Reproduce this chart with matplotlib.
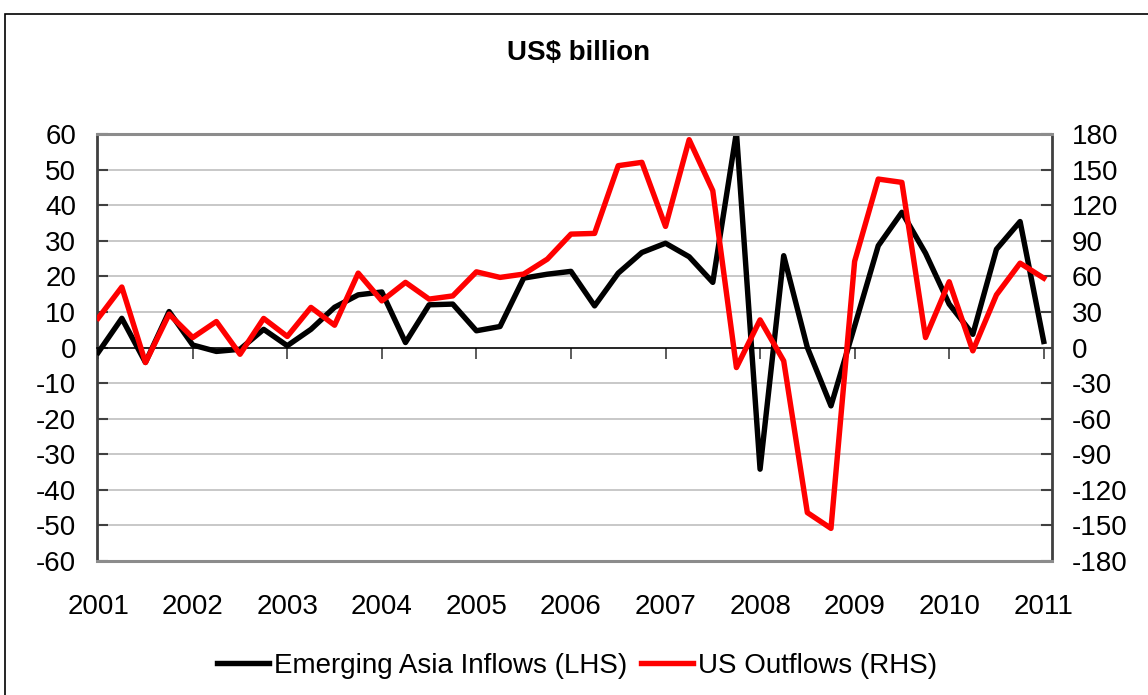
import numpy as np
import matplotlib.pyplot as plt
from matplotlib.patches import Rectangle

plt.rcParams['font.family'] = ['Liberation Sans', 'DejaVu Sans']

# quarterly data, 2001Q1 .. 2011Q1
asia_inflows = [-1.4, 8.2, -4.2, 10.1, 0.7, -1.1, -0.5, 5.1, 0.5, 5.1,
                11.3, 14.8, 15.6, 1.4, 12.0, 12.2, 4.7, 5.9, 19.5, 20.6,
                21.4, 11.7, 20.9, 26.7, 29.3, 25.5, 18.3, 60.5, -34.2, 25.8,
                0.0, -16.4, 6.0, 28.6, 38.0, 26.5, 12.2, 3.7, 27.6, 35.4,
                1.7]
us_outflows = [24.7, 51.0, -12.7, 28.1, 8.4, 21.9, -5.7, 24.5, 9.3, 33.8,
               18.8, 62.7, 39.3, 54.9, 40.8, 43.5, 63.8, 59.1, 61.9, 74.5,
               95.6, 96.2, 153.3, 156.1, 102.1, 175.2, 132.2, -16.9, 23.3, -11.3,
               -139.2, -152.5, 72.6, 142.0, 139.2, 8.4, 55.4, -2.8, 44.4, 71.1,
               58.5]
years = list(range(2001, 2012))
left_ticks = list(range(-60, 61, 10))
right_ticks = list(range(-180, 181, 30))

x = np.arange(len(asia_inflows))
year_pos = np.arange(len(years)) * 4
fs = 20

fig = plt.figure(figsize=(11.48, 6.95), dpi=100)
ax = fig.add_axes([97 / 1148, 1 - 561 / 695, (1052 - 97) / 1148, (561 - 134) / 695])
ax2 = ax.twinx()

# outer frame
fig.patches.append(Rectangle((5 / 1148, -0.01), 1.0, 1 - 14 / 695 + 0.01,
                             transform=fig.transFigure, fill=False,
                             edgecolor='black', linewidth=1.2))

ax.set_ylim(-60, 60)
ax.set_xlim(-0.05, 40.35)
ax2.set_ylim(-180, 180)

for t in left_ticks:
    if t not in (0, 60, -60):
        ax.axhline(t, color='#c8c8c8', linewidth=1.4, zorder=0)

# black on the left axis, red on the right axis (drawn on top)
l1, = ax.plot(x, asia_inflows, color='black', linewidth=3.9,
              label='Emerging Asia Inflows (LHS)', zorder=3)
l2, = ax2.plot(x, us_outflows, color='#ff0000', linewidth=3.9,
               label='US Outflows (RHS)', zorder=4)

# axis at zero with year ticks
ax.spines['bottom'].set_position(('data', 0))
ax.spines['bottom'].set_color('black')
ax.spines['bottom'].set_linewidth(1.2)
ax.spines['top'].set_visible(False)
ax.set_xticks(year_pos)
ax.tick_params(axis='x', direction='out', length=8, width=1.2, color='#404040',
               labelbottom=False)
for pos, yr in zip(year_pos, years):
    ax.text(pos, -0.108, str(yr), transform=ax.get_xaxis_transform(),
            ha='center', va='center', fontsize=fs)

ax.set_yticks(left_ticks)
ax.set_yticklabels([str(t) for t in left_ticks])
ax.tick_params(axis='y', direction='in', length=8, width=1.5, color='#404040',
               labelsize=fs, pad=15)
ax2.set_yticks(right_ticks)
ax2.set_yticklabels([str(t) for t in right_ticks])
ax2.tick_params(axis='y', direction='in', length=8, width=1.5, color='#404040',
                labelsize=fs, pad=14)

ax.spines['left'].set_color('#404040')
ax.spines['left'].set_linewidth(2)
ax.spines['right'].set_visible(False)
ax2.spines['left'].set_visible(False)
ax2.spines['right'].set_color('#404040')
ax2.spines['right'].set_linewidth(2)
ax2.spines['top'].set_color('#8c8c8c')
ax2.spines['top'].set_linewidth(2.2)
ax2.spines['bottom'].set_color('#8c8c8c')
ax2.spines['bottom'].set_linewidth(2.2)

fig.text(579 / 1148, 1 - 53 / 695, 'US$ billion', ha='center', va='center',
         fontsize=fs, fontweight='bold')

fig.legend(handles=[l1, l2], loc='center', bbox_to_anchor=(577 / 1148, 1 - 666 / 695),
           ncol=2, frameon=False, fontsize=fs, handlelength=1.87,
           handletextpad=0.18, columnspacing=0.5)

fig.savefig('out.png', dpi=100)
